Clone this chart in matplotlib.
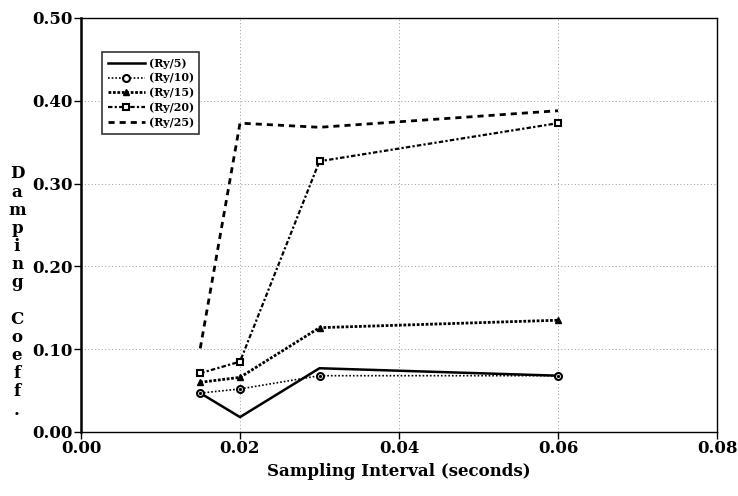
import numpy as np
import matplotlib
matplotlib.use('Agg')
import matplotlib.pyplot as plt
from matplotlib.legend_handler import HandlerLine2D

# sampling intervals (seconds)
x = [0.015, 0.02, 0.03, 0.06]

# damping coefficients
ry5 = [0.047, 0.018, 0.077, 0.068]
ry10 = [0.047, 0.052, 0.068, 0.068]
ry15 = [0.060, 0.066, 0.126, 0.135]
ry20 = [0.071, 0.085, 0.327, 0.373]
ry25 = [0.101, 0.373, 0.368, 0.388]

labels = ['(Ry/5)', '(Ry/10)', '(Ry/15)', '(Ry/20)', '(Ry/25)']
xticks = [0.00, 0.02, 0.04, 0.06, 0.08]
yticks = [0.0, 0.1, 0.2, 0.3, 0.4, 0.5]


class EndMarkerHandler(HandlerLine2D):
    # put the legend marker at the right end of the sample line
    def get_xdata(self, legend, xdescent, ydescent, width, height, fontsize):
        xd, _ = super().get_xdata(legend, xdescent, ydescent, width, height, fontsize)
        return xd, [width - xdescent - 2]


plt.rcParams['font.family'] = 'DejaVu Serif'
plt.rcParams['font.weight'] = 'bold'

fig = plt.figure(figsize=(7.38, 4.96), dpi=100)
ax = fig.add_axes([81/738, 1-432/496, 636/738, 414/496])

ax.plot(x, ry5, color='black', lw=1.8, ls='-', label=labels[0])
ax.plot(x, ry10, color='black', lw=1.2, ls=(0, (1, 1.2)), marker='o',
        ms=5, mfc='white', mec='black', mew=1.5, label=labels[1])
ax.plot(x, ry15, color='black', lw=2.0, ls=(0, (1, 0.6)), marker='^',
        ms=5, mfc='black', mec='black', label=labels[2])
ax.plot(x, ry20, color='black', lw=1.6, ls=(0, (2, 1, 1, 1)), marker='s',
        ms=5, mfc='white', mec='black', mew=1.5, label=labels[3])
ax.plot(x, ry25, color='black', lw=2.0, ls=(0, (2.2, 1.8)), label=labels[4])
# centre dots of the circle markers
ax.plot(x, ry10, ls='none', marker='o', ms=1.3, color='black')

ax.set_xlim(0, 0.08)
ax.set_ylim(0, 0.5)
ax.set_xticks(xticks)
ax.set_yticks(yticks)
ax.set_xticklabels(['%.2f' % v for v in xticks], fontsize=12, fontweight='bold')
ax.set_yticklabels(['%.2f' % v for v in yticks], fontsize=12, fontweight='bold')
ax.tick_params(direction='out', length=5, width=1, pad=1)
ax.grid(True, color='#999999', ls=(0, (1, 2.5)), lw=0.7)
for s in ax.spines.values():
    s.set_linewidth(1.0)
ax.spines['left'].set_linewidth(1.8)

ax.set_xlabel('Sampling Interval (seconds)', fontsize=12, fontweight='bold', labelpad=4)

ylab = 'D\na\nm\np\ni\nn\ng\n\nC\no\ne\nf\nf\n.'
fig.text(17/738, 1-292/496, ylab, fontsize=12, fontweight='bold',
         ha='center', va='center', linespacing=1.09)

handles, labs = ax.get_legend_handles_labels()
leg = ax.legend(handles[:5], labs[:5], loc='upper left', bbox_to_anchor=(0.033, 0.918),
                borderaxespad=0, fontsize=8, frameon=True, fancybox=False,
                edgecolor='black', handlelength=3.4, handletextpad=0.3, borderpad=0.5,
                labelspacing=0.35, numpoints=1,
                handler_map={plt.Line2D: EndMarkerHandler()})
leg.get_frame().set_linewidth(1.2)
for t in leg.get_texts():
    t.set_fontweight('bold')

fig.savefig('out.png', dpi=100)
